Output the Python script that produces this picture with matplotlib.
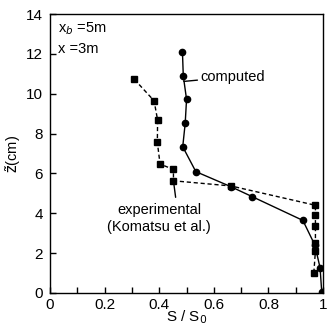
import numpy as np
import matplotlib.pyplot as plt
from matplotlib.ticker import MultipleLocator, FuncFormatter

plt.rcParams['font.family'] = ['Liberation Sans', 'DejaVu Sans']

# computed profile
comp_s = [0.485, 0.488, 0.500, 0.495, 0.486, 0.534, 0.663, 0.741, 0.926, 0.970, 0.989, 0.995]
comp_z = [12.1, 10.9, 9.72, 8.51, 7.34, 6.09, 5.33, 4.83, 3.64, 2.40, 1.26, 0.06]

# experimental (Komatsu et al.)
exp_s = [0.309, 0.381, 0.394, 0.393, 0.403, 0.452, 0.452, 0.663, 0.972, 0.972, 0.972, 0.972, 0.972, 0.966]
exp_z = [10.72, 9.65, 8.68, 7.56, 6.47, 6.20, 5.63, 5.37, 4.40, 3.91, 3.36, 2.49, 2.12, 0.99]

fig = plt.figure(figsize=(3.27, 3.28), dpi=100)
ax = fig.add_axes([0.153, 0.107, 0.835, 0.850])

ax.plot(exp_s, exp_z, 'k--', marker='s', ms=4.5, lw=1.0, dashes=(3, 2))
ax.plot(comp_s, comp_z, 'k-', marker='o', ms=4.5, lw=1.0)

ax.set_xlim(0, 1)
ax.set_ylim(0, 14)
ax.xaxis.set_major_locator(MultipleLocator(0.2))
ax.xaxis.set_minor_locator(MultipleLocator(0.1))
ax.yaxis.set_major_locator(MultipleLocator(2))
ax.xaxis.set_major_formatter(FuncFormatter(lambda v, p: '%g' % round(v, 1)))
ax.tick_params(which='both', direction='in', length=4, width=1, labelsize=11)
ax.tick_params(axis='x', pad=4)
ax.tick_params(axis='y', pad=5)
for s in ax.spines.values():
    s.set_linewidth(1.0)

ax.set_xlabel('S / S$_0$', fontsize=11, labelpad=-3)
ax.set_ylabel(r'$\tilde{\rm z}$(cm)', fontsize=10.5, labelpad=2)

ax.text(0.03, 13.7, 'x$_b$ =5m', fontsize=10.5, va='top')
ax.text(0.03, 12.6, 'x =3m', fontsize=10.5, va='top')

ax.annotate('computed', xy=(0.49, 10.62), xytext=(0.55, 10.85),
            fontsize=10.5, va='center',
            arrowprops=dict(arrowstyle='-', color='k', lw=1.0, shrinkA=0, shrinkB=0))
ax.text(0.40, 3.72, 'experimental\n(Komatsu et al.)', fontsize=10.5,
        ha='center', va='center', linespacing=1.3)
ax.annotate('', xy=(0.452, 5.63), xytext=(0.46, 4.8),
            arrowprops=dict(arrowstyle='-', color='k', lw=1.0, shrinkA=0, shrinkB=0))

fig.savefig('out.png', dpi=100)
